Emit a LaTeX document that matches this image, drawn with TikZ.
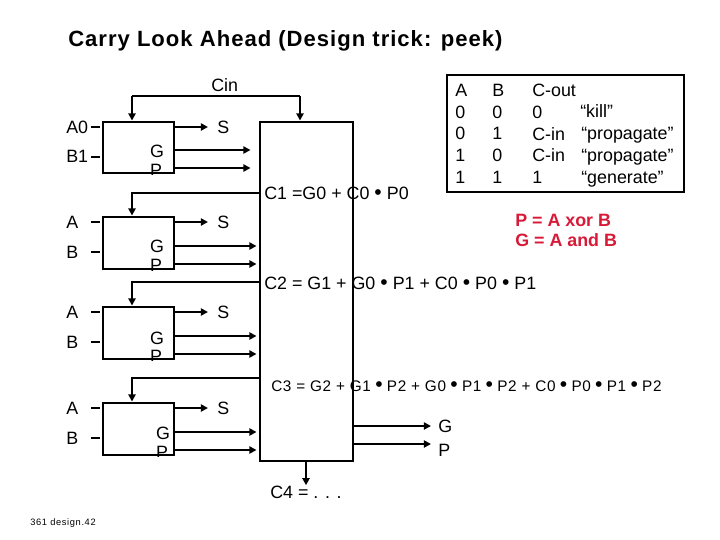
\documentclass[tikz,border=0pt]{standalone}
\usepackage{fontspec}
\setmainfont{Liberation Sans}
\usetikzlibrary{arrows.meta, positioning}
\definecolor{Rust}{HTML}{D81A38}
\newcommand{\dotop}{\hspace{0.28em}{\fontsize{15}{15}\selectfont\textbullet}\hspace{0.28em}}
\tikzset{
  adder/.style={rectangle, draw, line width=2.1pt, minimum width=71*0.25mm, minimum height=#1*0.25mm, inner sep=0pt},
  adder/.default=51,
  lab/.style={anchor=base west, inner sep=0pt, font=\fontsize{12.7}{15}\selectfont},
  mid/.style={anchor=base, inner sep=0pt, font=\fontsize{12.7}{15}\selectfont},
  col/.style={anchor=north west, inner sep=0pt, align=left, font=\fontsize{12.7}{15.4}\selectfont},
  arr/.style={-{Triangle[length=5pt, width=5pt]}, line width=2pt},
  stub/.style={line width=2pt, shorten >=2*0.25mm},
}

\begin{document}
\begin{tikzpicture}[x=0.25mm, y=-0.25mm]
\useasboundingbox (0,0) rectangle (720,540);

\node[lab, font=\fontsize{15.7}{18}\selectfont\bfseries\addfontfeature{LetterSpace=4.5}] at (68,46) (title) {Carry Look Ahead (Design trick: peek)};

\node[adder] at (138.5,147.5) (add0) {};
\node[adder=52] at (138.5,243) (add1) {};
\node[adder=52] at (138.5,333) (add2) {};
\node[adder=52] at (138.5,429) (add3) {};
\node[adder, minimum width=93*0.25mm, minimum height=339*0.25mm] at (306.5,291.5) (cla) {};

\node[lab] at (211,91) (cin) {Cin};
\coordinate (cinL) at (132,96);
\coordinate (cinR) at (300,96);
\draw[line width=2pt] (cinL) -- (cinR);
\draw[arr] (cinL) -- (cinL |- add0.north);
\draw[arr] (cinR) -- (cinR |- cla.north);

\node[lab] at (66,133) (a0) {A0};
\node[lab] at (66,162) (b0) {B1};
\node[lab] at (66,228) (a1) {A};
\node[lab] at (66,258) (b1) {B};
\node[lab] at (66,318) (a2) {A};
\node[lab] at (66,348) (b2) {B};
\node[lab] at (66,414) (a3) {A};
\node[lab] at (66,444) (b3) {B};

\coordinate (ina0) at (91,127);
\coordinate (inb0) at (91,157);
\coordinate (ina1) at (91,222);
\coordinate (inb1) at (91,252);
\coordinate (ina2) at (91,312);
\coordinate (inb2) at (91,342);
\coordinate (ina3) at (91,408);
\coordinate (inb3) at (91,438);
\draw[stub] (ina0) -- (ina0 -| add0.west);
\draw[stub] (inb0) -- (inb0 -| add0.west);
\draw[stub] (ina1) -- (ina1 -| add1.west);
\draw[stub] (inb1) -- (inb1 -| add1.west);
\draw[stub] (ina2) -- (ina2 -| add2.west);
\draw[stub] (inb2) -- (inb2 -| add2.west);
\draw[stub] (ina3) -- (ina3 -| add3.west);
\draw[stub] (inb3) -- (inb3 -| add3.west);

\node[lab] at (217,133) (s0) {S};
\node[lab] at (217,228) (s1) {S};
\node[lab] at (217,318) (s2) {S};
\node[lab] at (217,414) (s3) {S};
\coordinate (sy0) at (208,127);
\coordinate (sy1) at (208,222);
\coordinate (sy2) at (208,312);
\coordinate (sy3) at (208,408);
\draw[arr] (sy0 -| add0.east) -- (sy0);
\draw[arr] (sy1 -| add1.east) -- (sy1);
\draw[arr] (sy2 -| add2.east) -- (sy2);
\draw[arr] (sy3 -| add3.east) -- (sy3);

\node[mid] at (157,157) (g0) {G};
\node[mid] at (157,252) (g1) {G};
\node[mid] at (157,344) (g2) {G};
\node[mid] at (163,439) (g3) {G};

\begin{scope}
\clip (add0.north west) rectangle (add0.south east);
\node[mid] at (156,176) (p0) {P};
\end{scope}
\begin{scope}
\clip (add1.north west) rectangle (add1.south east);
\node[mid] at (156,271) (p1) {P};
\end{scope}
\begin{scope}
\clip (add2.north west) rectangle (add2.south east);
\node[mid] at (156,362) (p2) {P};
\end{scope}
\begin{scope}
\clip (add3.north west) rectangle (add3.south east);
\node[mid] at (162,458) (p3) {P};
\end{scope}

\coordinate (gy0) at (174,150);
\coordinate (py0) at (174,168);
\coordinate (gy1) at (174,246);
\coordinate (py1) at (174,264);
\coordinate (gy2) at (174,336);
\coordinate (py2) at (174,354);
\coordinate (gy3) at (174,432);
\coordinate (py3) at (174,450);
\draw[arr, shorten >=8*0.25mm] (gy0) -- (gy0 -| cla.west);
\draw[arr, shorten >=8*0.25mm] (py0) -- (py0 -| cla.west);
\draw[arr, shorten >=2*0.25mm] (gy1) -- (gy1 -| cla.west);
\draw[arr, shorten >=2*0.25mm] (py1) -- (py1 -| cla.west);
\draw[arr, shorten >=2*0.25mm] (gy2) -- (gy2 -| cla.west);
\draw[arr, shorten >=2*0.25mm] (py2) -- (py2 -| cla.west);
\draw[arr, shorten >=2*0.25mm] (gy3) -- (gy3 -| cla.west);
\draw[arr, shorten >=2*0.25mm] (py3) -- (py3 -| cla.west);

\coordinate (c1y) at (132,193);
\coordinate (c2y) at (132,282);
\coordinate (c3y) at (132,378);
\draw[arr] (c1y -| cla.west) -- (c1y) -- (c1y |- add1.north);
\draw[arr] (c2y -| cla.west) -- (c2y) -- (c2y |- add2.north);
\draw[arr] (c3y -| cla.west) -- (c3y) -- (c3y |- add3.north);

\node[lab] at (264,199) (c1) {C1 =G0 + C0\dotop P0};
\node[lab] at (264,289) (c2) {C2 = G1 + G0\dotop P1 + C0\dotop P0\dotop P1};
\node[lab, font=\fontsize{10.9}{13}\selectfont\addfontfeature{LetterSpace=4}] at (271,391) (c3) {C3 = G2 + G1\dotop P2 + G0\dotop P1\dotop P2 + C0\dotop P0\dotop P1\dotop P2};
\node[lab] at (270,498) (c4) {C4 = . . .};
\draw[arr] (cla.south -| 306,461) -- (c4.north -| 306,461);

\node[lab] at (438,432) (gout) {G};
\node[lab] at (438,456) (pout) {P};
\coordinate (gouty) at (431,426);
\coordinate (pouty) at (431,444);
\draw[arr] (gouty -| cla.east) -- (gouty);
\draw[arr] (pouty -| cla.east) -- (pouty);

\node[lab, text=Rust, align=left, anchor=north west, font=\fontsize{12.7}{14.2}\selectfont\bfseries] at (515,214) (eqn) {P = A xor B\\G = A and B};

\node[rectangle, draw, line width=2.1pt, minimum width=237*0.25mm, minimum height=117*0.25mm, inner sep=0pt] at (565.5,133.5) (tbl) {};
\node[col] at (455,84) (colA) {A\\0\\0\\1\\1};
\node[col] at (492,84) (colB) {B\\0\\1\\0\\1};
\node[col] at (532,84) (colC) {C-out\\0\\C-in\\C-in\\1};
\node[lab] at (580,117) (qk) {“kill”};
\node[lab] at (581,139) (qp) {“propagate”};
\node[lab] at (581,161) (qq) {“propagate”};
\node[lab] at (581,183) (qg) {“generate”};

\node[lab, font=\fontsize{6.6}{8}\selectfont\addfontfeature{LetterSpace=7}] at (30,525) (foot) {361 design.42};

\end{tikzpicture}
\end{document}
